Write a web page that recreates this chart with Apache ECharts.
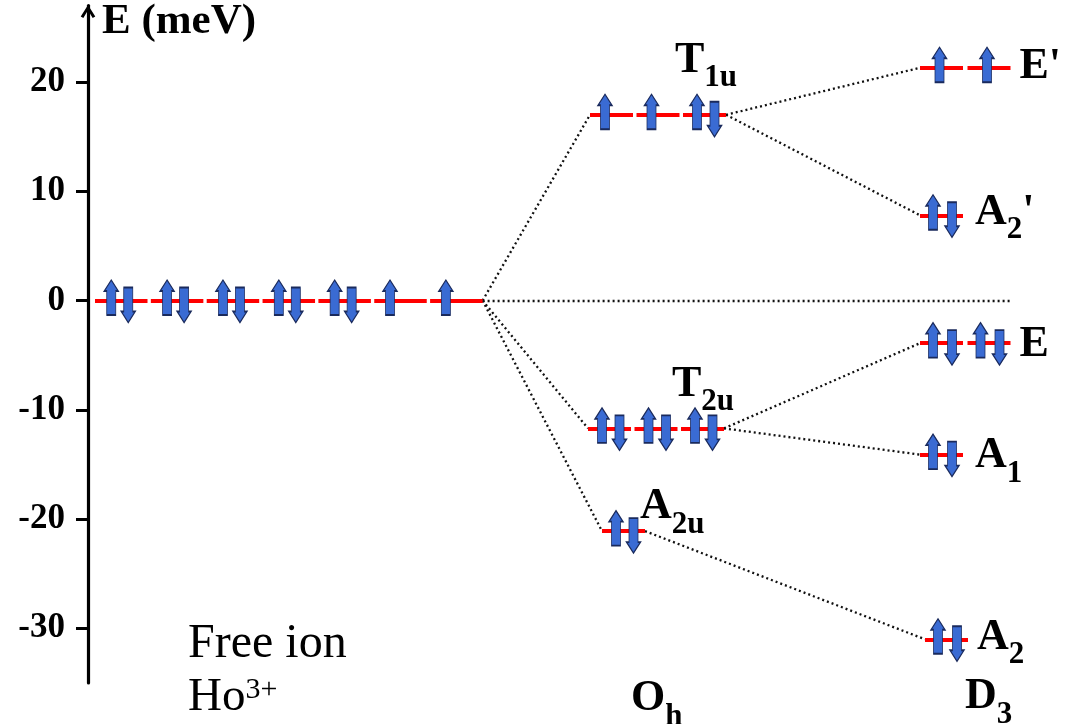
<!DOCTYPE html>
<html><head><meta charset="utf-8">
<script src="https://cdn.jsdelivr.net/npm/echarts@6/dist/echarts.min.js"></script>
<style>html,body{margin:0;padding:0;background:#fff}#c{width:1065px;height:724px}</style>
</head><body><div id="c"></div>
<script>
// ---------------- data ----------------
const yTicks = [-30, -20, -10, 0, 10, 20];
const freeIonEnergy = 0;
const freeIonElectrons = [2, 2, 2, 2, 2, 1, 1];
const ohNames = ['T1u', 'T2u', 'A2u'];
const ohEnergies = [17.0, -11.7, -21.1];
const ohElectrons = [[1, 1, 2], [2, 2, 2], [2]];
const d3Names = ["E'", "A2'", 'E', 'A1', 'A2'];
const d3Energies = [21.3, 7.8, -3.9, -14.1, -31.0];
const d3Electrons = [[1, 1], [2], [2, 2], [2], [2]];
const links = [['T1u', "E'"], ['T1u', "A2'"], ['T2u', 'E'], ['T2u', 'A1'], ['A2u', 'A2']];
const axisName = 'E (meV)';
const freeIonTitle = 'Free ion';
const ionName = ['Ho', '3+'];
const groupNames = [['O', 'h'], ['D', '3']];

// ---------------- layout (positions / styles only) ----------------
const FONT = '"Liberation Serif", "Times New Roman", serif';
const COL = {
  free: { pitch: 55.85, seg: 52.5, single: -10.5, up: -10, down: 7, starts: { free: 7 } },
  oh:   { pitch: 46.5, seg: 43, single: -6.5, up: -7.5, down: 10, starts: { T1u: 502, T2u: 500, A2u: 514 } },
  d3:   { pitch: 47.5, seg: 43, single: -2, up: -8.5, down: 10.5, starts: { "E'": 832, "A2'": 832, E: 832, A1: 832, A2: 837 } }
};
const zeroLineEnd = 922.5;
const labelOffsets = {
  T1u: [-51, -43.5], T2u: [-52, -32.5], A2u: [-5, -13],
  "E'": [9, 9.5], "A2'": [12, 8.5], E: [9, 12.5], A1: [12, 12.5], A2: [9, 9.5]
};

// ---------------- build levels ----------------
function makeLevel(name, E, electrons, col) {
  const c = COL[col];
  const start = c.starts[name];
  const n = electrons.length;
  return { name, E, electrons, col, start, end: start + (n - 1) * c.pitch + c.seg };
}
const levels = [makeLevel('free', freeIonEnergy, freeIonElectrons, 'free')];
ohNames.forEach((n, i) => levels.push(makeLevel(n, ohEnergies[i], ohElectrons[i], 'oh')));
d3Names.forEach((n, i) => levels.push(makeLevel(n, d3Energies[i], d3Electrons[i], 'd3')));
const byName = {};
levels.forEach(l => byName[l.name] = l);

const segData = [], upData = [], downData = [];
levels.forEach(l => {
  const c = COL[l.col];
  l.electrons.forEach((ne, i) => {
    const x0 = l.start + i * c.pitch;
    segData.push({ coords: [[x0, l.E], [x0 + c.seg, l.E]] });
    const mid = x0 + c.seg / 2;
    if (ne === 2) { upData.push([mid + c.up, l.E]); downData.push([mid + c.down, l.E]); }
    else upData.push([mid + c.single, l.E]);
  });
});

const linkData = [];
const free = byName.free;
ohNames.forEach(n => linkData.push({ coords: [[free.end, free.E], [byName[n].start, byName[n].E]] }));
linkData.push({ coords: [[free.end, free.E], [zeroLineEnd, free.E]] });
links.forEach(([a, b]) => linkData.push({ coords: [[byName[a].end, byName[a].E], [byName[b].start, byName[b].E]] }));

function richName(name) {
  const m = name.match(/^([A-Z])([0-9a-z]*)('?)$/);
  let s = '{m|' + m[1] + '}';
  if (m[2]) s += '{s|' + m[2] + '}';
  if (m[3]) s += '{m|' + m[3] + '}';
  return s;
}
const RICH = {
  m: { fontFamily: FONT, fontWeight: 'bold', fontSize: 44, lineHeight: 44, color: '#000', padding: [0, 0, 11, 0], verticalAlign: 'bottom' },
  s: { fontFamily: FONT, fontWeight: 'bold', fontSize: 31, lineHeight: 31, color: '#000', verticalAlign: 'bottom' }
};
const labelData = levels.filter(l => l.name !== 'free').map(l => ({
  value: [l.end, l.E],
  label: { formatter: richName(l.name), offset: labelOffsets[l.name] }
}));

const UP = 'path://M7,0 L14,11 L11.5,11 L11.5,35 L2.5,35 L2.5,11 L0,11 Z';
const DOWN = 'path://M2.5,0 L11.5,0 L11.5,24 L14,24 L7,35 L0,24 L2.5,24 Z';
const arrowStyle = { color: '#3a6bd3', borderColor: '#1a2a5c', borderWidth: 1.2, opacity: 1 };

const chart = echarts.init(document.getElementById('c'), null, { renderer: 'canvas' });
chart.setOption({
  animation: false,
  backgroundColor: '#fff',
  grid: { left: 88, right: 0, top: 5, bottom: 41 },
  xAxis: { type: 'value', min: 0, max: 977, show: false },
  yAxis: {
    type: 'value', min: -35, max: 27,
    name: axisName, nameLocation: 'end', nameGap: -16,
    nameTextStyle: { fontFamily: FONT, fontWeight: 'bold', fontSize: 43, color: '#000', align: 'left', verticalAlign: 'middle', padding: [0, 0, 0, 14] },
    axisLine: { show: true, lineStyle: { color: '#000', width: 3.2 }, symbol: ['none', 'path://M0,11 L7,0 L14,11 L11.5,12.5 L7,5 L2.5,12.5 Z'], symbolSize: [15, 13], symbolOffset: [0, -6] },
    axisTick: { show: true, length: 12, lineStyle: { width: 3, color: '#000' }, customValues: yTicks },
    axisLabel: { margin: 23, fontFamily: FONT, fontWeight: 'bold', fontSize: 35, color: '#000', customValues: yTicks },
    splitLine: { show: false }
  },
  series: [
    { type: 'lines', coordinateSystem: 'cartesian2d', z: 1, silent: true,
      lineStyle: { color: '#111', width: 2.3, type: [2, 3], opacity: 1 }, data: linkData },
    { type: 'lines', coordinateSystem: 'cartesian2d', z: 2, silent: true,
      lineStyle: { color: '#ff0000', width: 4, opacity: 1 }, data: segData },
    { type: 'scatter', z: 3, symbol: UP, symbolSize: [14, 35], symbolOffset: [0, -3], itemStyle: arrowStyle, data: upData, silent: true },
    { type: 'scatter', z: 3, symbol: DOWN, symbolSize: [14, 35], symbolOffset: [0, 4.5], itemStyle: arrowStyle, data: downData, silent: true },
    { type: 'scatter', z: 4, symbol: 'circle', symbolSize: 0.1, itemStyle: { color: 'transparent', opacity: 1 }, silent: true,
      label: { show: true, position: 'inside', align: 'left', verticalAlign: 'middle', rich: RICH },
      data: labelData }
  ],
  graphic: [
    { type: 'text', x: 188, y: 644, style: { text: freeIonTitle, fontFamily: FONT, fontSize: 48, fill: '#000', verticalAlign: 'middle' } },
    { type: 'text', x: 188, y: 698, style: { text: '{r|' + ionName[0] + '}{p|' + ionName[1] + '}', verticalAlign: 'middle',
        rich: { r: { fontFamily: FONT, fontSize: 47, lineHeight: 47, color: '#000', verticalAlign: 'bottom' },
                p: { fontFamily: FONT, fontSize: 30, lineHeight: 30, color: '#000', padding: [0, 0, 16, 0], verticalAlign: 'bottom' } } } },
    { type: 'text', x: 631, y: 710, style: { text: '{m|' + groupNames[0][0] + '}{s|' + groupNames[0][1] + '}', verticalAlign: 'middle', rich: RICH } },
    { type: 'text', x: 965, y: 708, style: { text: '{m|' + groupNames[1][0] + '}{s|' + groupNames[1][1] + '}', verticalAlign: 'middle', rich: RICH } }
  ]
});
</script></body></html>
